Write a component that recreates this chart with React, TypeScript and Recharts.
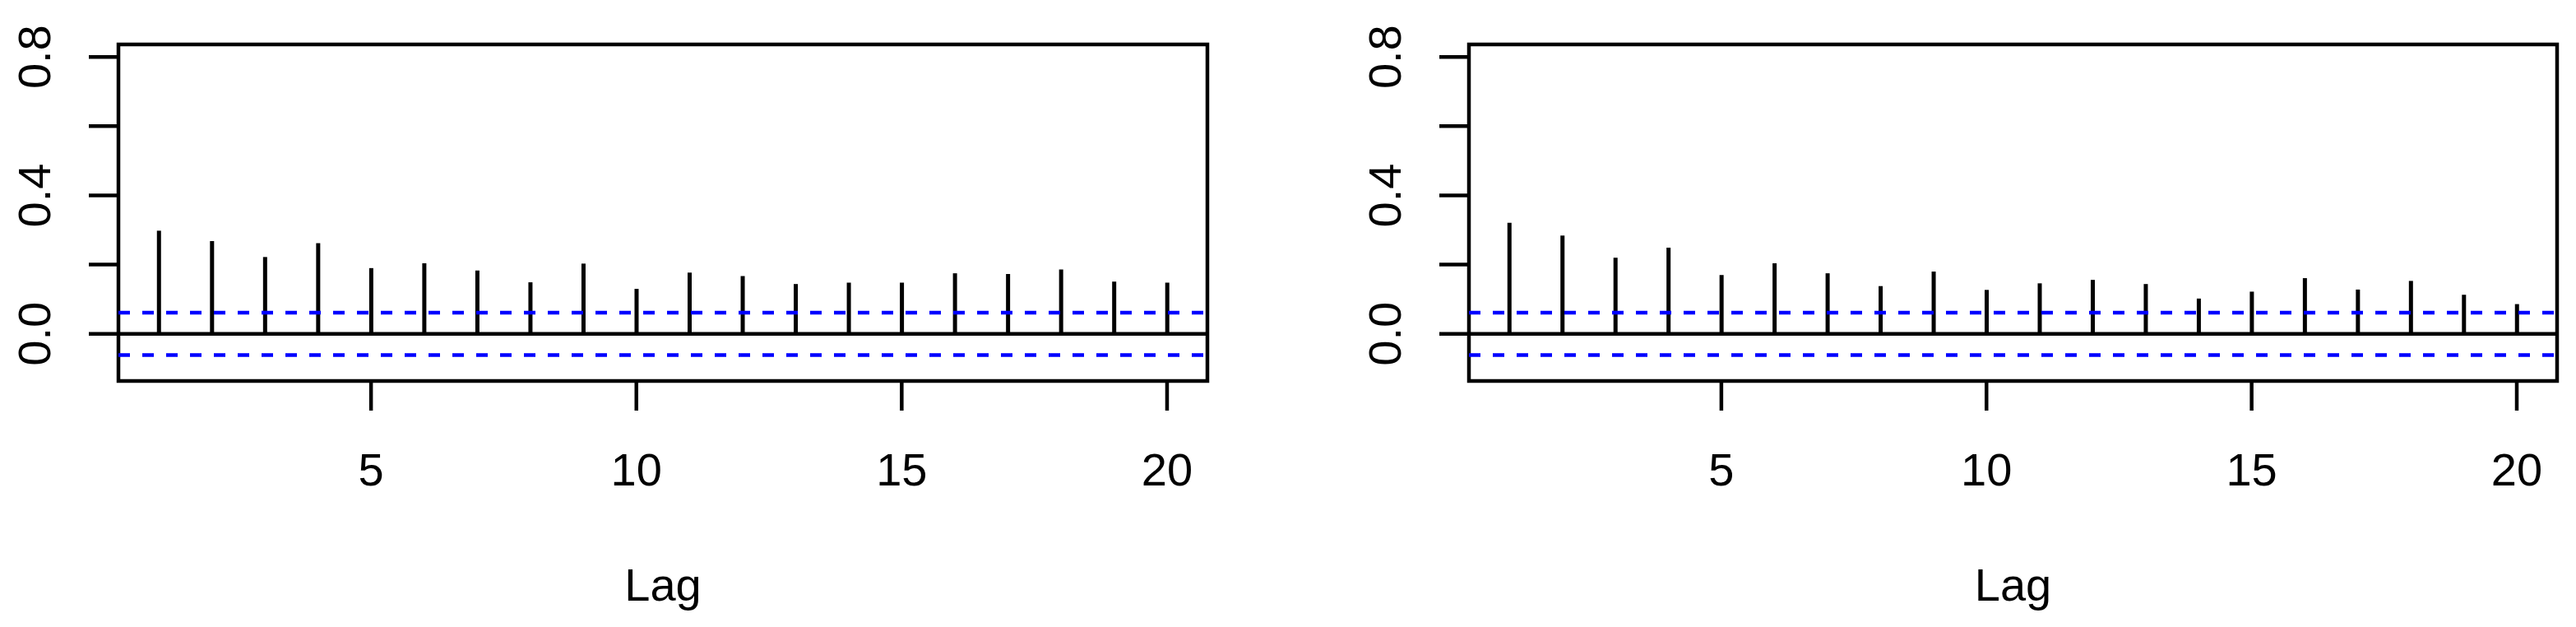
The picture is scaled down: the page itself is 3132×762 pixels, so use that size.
import { ComposedChart, Bar, XAxis, YAxis, ReferenceLine, ReferenceArea, Label } from 'recharts';

// lags and sample autocorrelations
const lags = [1, 2, 3, 4, 5, 6, 7, 8, 9, 10, 11, 12, 13, 14, 15, 16, 17, 18, 19, 20];
const acfLeft = [0.298, 0.268, 0.222, 0.262, 0.190, 0.204, 0.183, 0.149, 0.203, 0.130,
  0.177, 0.167, 0.144, 0.148, 0.148, 0.175, 0.173, 0.186, 0.151, 0.148];
const acfRight = [0.321, 0.284, 0.220, 0.249, 0.170, 0.204, 0.175, 0.138, 0.180, 0.127,
  0.146, 0.156, 0.144, 0.102, 0.122, 0.161, 0.128, 0.153, 0.113, 0.086];
const ciBound = 0.061;

const xTicks = [5, 10, 15, 20];
const yTicks = [0, 0.2, 0.4, 0.6, 0.8];
const yLabelled = ['0.0', '0.4', '0.8'];

// R pads limits by 4%: xlim c(1,20), ylim c(-0.1,0.8)
const X_MIN = 0.24, X_MAX = 20.76;
const Y_MIN = -0.136, Y_MAX = 0.836;

const FONT = '"Liberation Sans", Arial, Helvetica, sans-serif';
const FS = 56;
const LW = 4.5;

function YTick(props: any) {
  const { x, y, payload } = props;
  const txt = Number(payload.value).toFixed(1);
  if (!yLabelled.includes(txt)) return <g />;
  const bx = x - 47;
  return (
    <text x={bx} y={y} transform={`rotate(-90 ${bx} ${y})`} textAnchor="middle"
      fontSize={FS} fontFamily={FONT} fill="#000">{txt}</text>
  );
}

function AcfPanel({ values, left, yAxisWidth, rightMargin }: { values: number[]; left: number; yAxisWidth: number; rightMargin: number }) {
  const data = lags.map((lag, i) => ({ lag, acf: values[i] }));
  return (
    <div style={{ position: 'absolute', left, top: 0 }}>
      <ComposedChart width={1566} height={762} data={data}
        margin={{ top: 54, right: rightMargin, bottom: 0, left: 0 }}>
        <XAxis dataKey="lag" type="number" domain={[X_MIN, X_MAX]} ticks={xTicks}
          allowDataOverflow height={299} axisLine={false} tickSize={36} tickMargin={51}
          tickLine={{ stroke: '#000', strokeWidth: LW }}
          tick={{ fill: '#000', fontSize: FS, fontFamily: FONT }}>
          <Label value="Lag" position="insideTop" offset={227} fill="#000" fontSize={FS} fontFamily={FONT} />
        </XAxis>
        <YAxis type="number" domain={[Y_MIN, Y_MAX]} ticks={yTicks} allowDataOverflow
          width={yAxisWidth} axisLine={false} tickSize={36} tickMargin={0}
          tickLine={{ stroke: '#000', strokeWidth: LW }} tick={<YTick />} />
        <Bar dataKey="acf" fill="#000" barSize={5} isAnimationActive={false} />
        <ReferenceLine y={0} stroke="#000" strokeWidth={LW} />
        <ReferenceLine y={ciBound} stroke="#0000ff" strokeWidth={LW} strokeDasharray="14 15" />
        <ReferenceLine y={-ciBound} stroke="#0000ff" strokeWidth={LW} strokeDasharray="14 15" />
        <ReferenceArea x1={X_MIN} x2={X_MAX} y1={Y_MIN} y2={Y_MAX} fill="none"
          fillOpacity={0} stroke="#000" strokeWidth={LW} strokeOpacity={1} />
      </ComposedChart>
    </div>
  );
}

export default function App() {
  return (
    <div style={{ position: 'absolute', left: 0, top: 0, width: 3132, height: 762, background: '#fff' }}>
      <AcfPanel values={acfLeft} left={0} yAxisWidth={144} rightMargin={98} />
      <AcfPanel values={acfRight} left={1566} yAxisWidth={220} rightMargin={23} />
    </div>
  );
}
